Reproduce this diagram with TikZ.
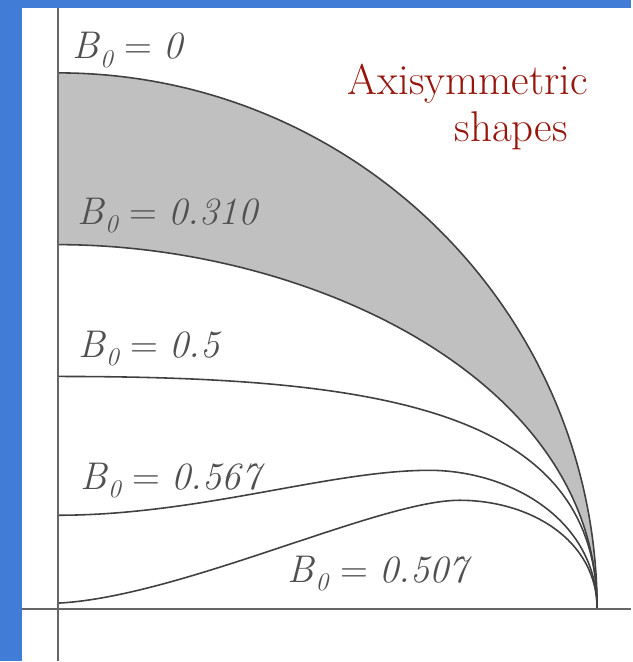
\documentclass[tikz,border=0pt]{standalone}
\usetikzlibrary{positioning}
\definecolor{slideblue}{RGB}{65,124,214}
\definecolor{shapered}{RGB}{150,22,12}
\definecolor{lblgray}{RGB}{80,80,80}
\definecolor{bandgray}{RGB}{192,192,192}
\newcommand{\bnull}[1]{\textit{B}\raisebox{-0.5ex}{\fontsize{14.5}{14.5}\selectfont\itshape 0}\hspace{0.3em}=\hspace{0.3em}\textit{#1}}

\begin{document}
\begin{tikzpicture}[x=0.02cm,y=-0.02cm,
  curve/.style={line width=0.9pt,draw=black!75},
  axis/.style={line width=1.1pt,draw=black!60},
  blabel/.style={anchor=base west,inner sep=0pt,text=lblgray,font=\fontsize{22}{26}\selectfont},
  title/.style={anchor=base west,inner sep=0pt,text=shapered,font=\fontsize{24.5}{29}\selectfont}]
  \fill[slideblue] (0,0) rectangle (632,662);
  \fill[white] (22,8) rectangle (632,662);
  \fill[bandgray] (58,73) .. controls (356,73) and (598,313) .. (598,610) .. controls (598,380) and (310,245) .. (58,245) -- cycle;
  \draw[curve] (58,73) .. controls (356,73) and (598,313) .. (598,610);
  \draw[curve] (58,245) .. controls (310,245) and (598,380) .. (598,610);
  \draw[curve] (58,377) .. controls (380,377) and (598,410) .. (598,610);
  \draw[curve] (58,516) .. controls (200,516) and (330,471) .. (430,471) .. controls (510,471) and (598,520) .. (598,610);
  \draw[curve] (58,604) .. controls (180,598) and (380,501) .. (460,501) .. controls (530,501) and (598,540) .. (598,610);
  \draw[axis] (58,8) -- (58,662);
  \draw[axis] (22,610) -- (632,610);
  \node[blabel] (b0) at (72,59) {\bnull{0}};
  \node[blabel] (b310) at (77,225) {\bnull{0.310}};
  \node[blabel] (b500) at (78,358) {\bnull{0.5}};
  \node[blabel] (b567) at (80,490) {\bnull{0.567}};
  \node[blabel] (b507) at (288,583) {\bnull{0.507}};
  \node[title] (axi) at (348,95) {Axisymmetric};
  \node[title] (shp) at (455,142) {shapes};
\end{tikzpicture}
\end{document}
